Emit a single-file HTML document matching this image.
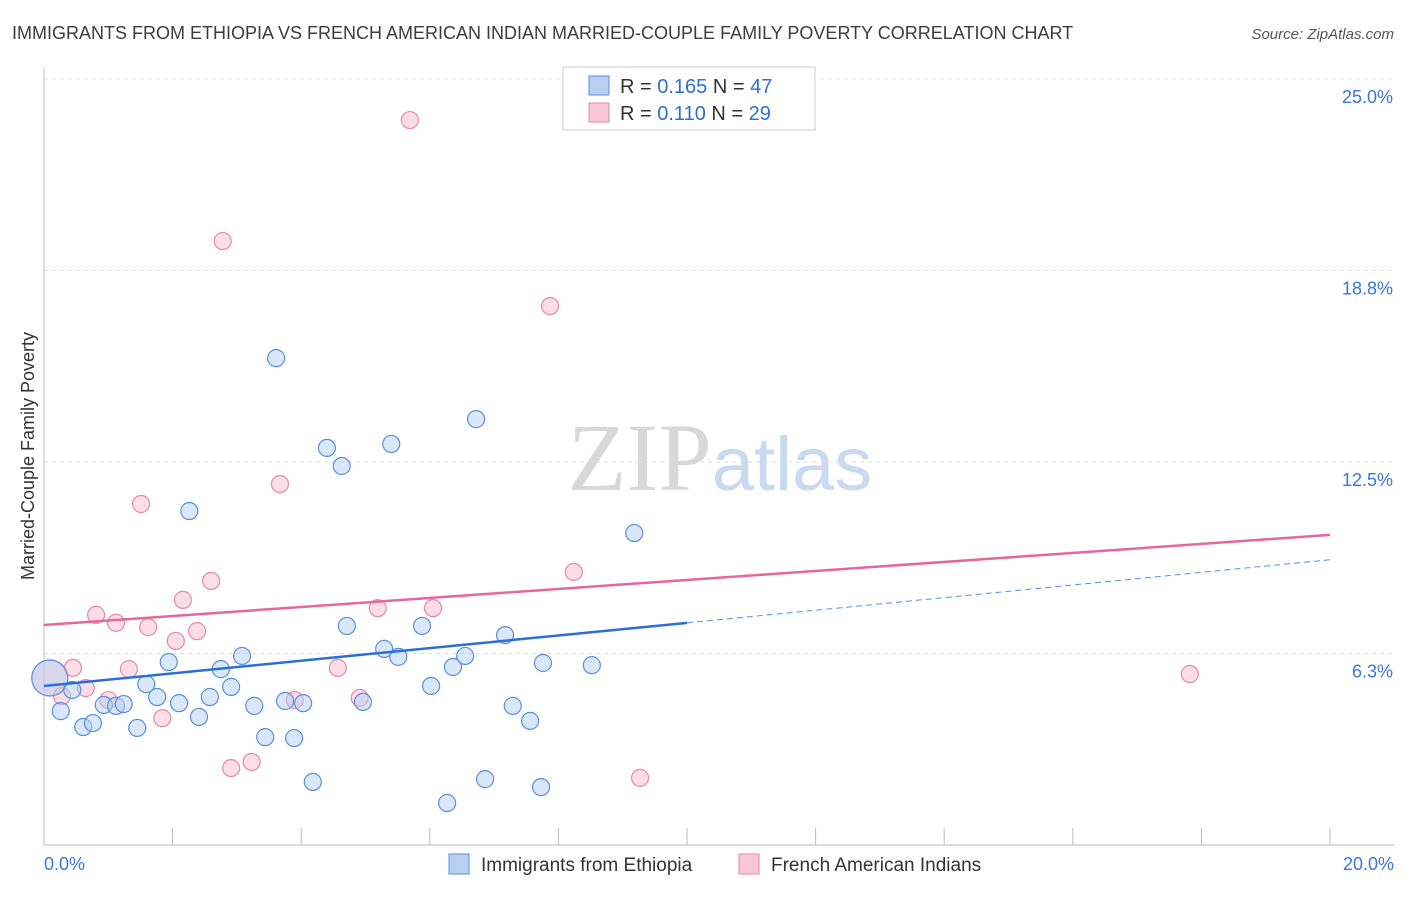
<!DOCTYPE html>
<html><head><meta charset="utf-8"><style>
body{margin:0;background:#fff;font-family:"Liberation Sans",sans-serif;}
svg text{font-family:"Liberation Sans",sans-serif;}
</style></head><body>
<svg id="chart" width="1406" height="892" viewBox="0 0 1406 892" xmlns="http://www.w3.org/2000/svg">
<text x="12" y="39" font-size="18" fill="#3c3c3c">IMMIGRANTS FROM ETHIOPIA VS FRENCH AMERICAN INDIAN MARRIED-COUPLE FAMILY POVERTY CORRELATION CHART</text>
<text x="1394" y="39" font-size="15" fill="#555" text-anchor="end" font-style="italic">Source: ZipAtlas.com</text>
<text x="720" y="490" font-size="96" text-anchor="middle"><tspan fill="#d8d8d8" font-family="Liberation Serif">ZIP</tspan><tspan fill="#c8d9f0" font-size="76">atlas</tspan></text>
<g id="grid"></g>
<g id="axes"></g>
<g id="marks"></g>
<text transform="translate(34,456) rotate(-90)" font-size="18" fill="#333" text-anchor="middle">Married-Couple Family Poverty</text>
<g>
<rect x="563" y="67" width="252" height="63" fill="#fff" stroke="#ccc"/>
<rect x="589" y="76" width="20" height="19" fill="#b8d1f3" stroke="#5b8fd9"/>
<text x="620" y="93" font-size="20" fill="#333">R = <tspan fill="#2f6fd0">0.165</tspan>   N = <tspan fill="#2f6fd0">47</tspan></text>
<rect x="589" y="103" width="20" height="19" fill="#f8c7d5" stroke="#e58aa6"/>
<text x="620" y="120" font-size="20" fill="#333">R = <tspan fill="#2f6fd0">0.110</tspan>   N = <tspan fill="#2f6fd0">29</tspan></text>
</g>
<g>
<rect x="449" y="854" width="20" height="20" fill="#b8d1f3" stroke="#5b8fd9"/>
<text x="481" y="871" font-size="19" fill="#333">Immigrants from Ethiopia</text>
<rect x="739" y="854" width="20" height="20" fill="#f8c7d5" stroke="#e58aa6"/>
<text x="771" y="871" font-size="19" fill="#333">French American Indians</text>
</g>
</svg>
<script>
const blueX=[0.09,0.44,0.26,0.61,0.76,0.93,1.12,1.24,1.45,1.59,1.76,1.94,2.10,2.26,2.41,2.58,2.75,2.91,3.08,3.27,3.44,3.61,3.75,3.89,4.03,4.18,4.40,4.63,4.71,4.96,5.29,5.40,5.51,5.88,6.02,6.27,6.36,6.55,6.72,6.86,7.17,7.29,7.56,7.73,7.76,8.52,9.18];
const blueY=[5.45,5.06,4.37,3.85,3.98,4.57,4.54,4.60,3.82,5.25,4.83,5.97,4.63,10.90,4.18,4.83,5.74,5.16,6.17,4.54,3.52,15.89,4.70,3.49,4.63,2.06,12.96,12.37,7.15,4.67,6.40,13.09,6.14,7.15,5.19,1.37,5.81,6.17,13.90,2.15,6.85,4.54,4.05,1.89,5.94,5.87,10.18];
const pinkX=[0.09,0.28,0.45,0.65,0.81,1.00,1.12,1.32,1.51,1.62,1.84,2.05,2.16,2.38,2.60,2.78,2.91,3.23,3.67,3.90,4.57,4.91,5.19,5.69,6.05,7.87,8.24,9.27,17.82];
const pinkY=[5.45,4.86,5.78,5.12,7.51,4.73,7.25,5.74,11.13,7.11,4.14,6.66,8.00,6.98,8.62,19.71,2.51,2.71,11.78,4.73,5.78,4.80,7.73,23.66,7.73,17.59,8.91,2.19,5.58];
const yTicks=[6.25,12.5,18.75,25];
const yTickLabels=["6.3%","12.5%","18.8%","25.0%"];
const xTickLabels=["0.0%","20.0%"];
const blueTrend=[5.19,0.206];
const pinkTrend=[7.18,0.147];
const X=v=>44+v*64.3, Y=v=>845-v*30.64;
const NS="http://www.w3.org/2000/svg";
function mk(p,t,a){const e=document.createElementNS(NS,t);for(const k in a)e.setAttribute(k,a[k]);p.appendChild(e);return e;}
const grid=document.getElementById('grid'),axes=document.getElementById('axes'),marks=document.getElementById('marks');
yTicks.forEach((t,i)=>{
 const l=mk(grid,'line',{x1:44,x2:1394,y1:Y(t),y2:Y(t),stroke:'#ddd','stroke-dasharray':'4,4'});
 
 
 const tx=mk(axes,'text',{x:1393,y:Y(t)+24,'font-size':18,fill:'#3a78d6','text-anchor':'end'});
 tx.textContent=yTickLabels[i];
 
 
});
let a=mk(axes,'line',{x1:44,x2:44,y1:68,y2:845,stroke:'#bbb'});


a=mk(axes,'line',{x1:44,x2:1394,y1:845,y2:845,stroke:'#bbb'});


for(let i=1;i<=10;i++){const t=mk(axes,'line',{x1:X(i*2),x2:X(i*2),y1:828,y2:845,stroke:'#bbb'});
 
 }
[[0,'start',44],[20,'end',1394]].forEach((d,i)=>{const t=mk(axes,'text',{x:d[2],y:870,'font-size':18,fill:'#3a78d6','text-anchor':d[1]});t.textContent=xTickLabels[i];
 
 });
function pts(xs,ys,fill,stroke,name){xs.forEach((x,i)=>{const c=mk(marks,'circle',{cx:X(x),cy:Y(ys[i]),r:i===0?18:8.5,fill:fill,'fill-opacity':0.5,stroke:stroke,'stroke-width':1.2});
 
 });}
pts(pinkX,pinkY,'#f6bccd','#e68aa7','pink-point');
pts(blueX,blueY,'#b5cff2','#5b8fd9','blue-point');
let l=mk(marks,'line',{x1:X(0),y1:Y(pinkTrend[0]),x2:X(20),y2:Y(pinkTrend[0]+20*pinkTrend[1]),stroke:'#e4689a','stroke-width':2.5});


l=mk(marks,'line',{x1:X(0),y1:Y(blueTrend[0]),x2:X(10),y2:Y(blueTrend[0]+10*blueTrend[1]),stroke:'#2a6fd6','stroke-width':2.5});


l=mk(marks,'line',{x1:X(10),y1:Y(blueTrend[0]+10*blueTrend[1]),x2:X(20),y2:Y(blueTrend[0]+20*blueTrend[1]),stroke:'#5b8fd9','stroke-width':1,'stroke-dasharray':'6,4'});


</script>
</body></html>
